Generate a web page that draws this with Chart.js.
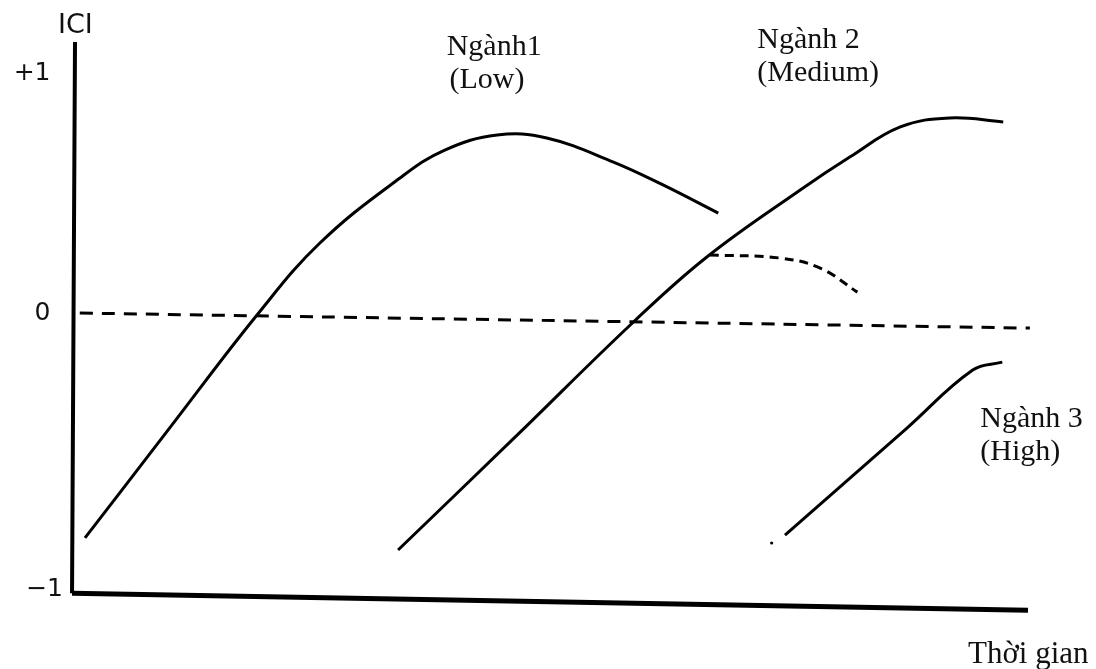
<!DOCTYPE html>
<html>
<head>
<meta charset="utf-8">
<script src="https://cdn.jsdelivr.net/npm/chart.js@4"></script>
<style>
  body { margin: 0; background: #fff; }
  #wrap { width: 1096px; height: 669px; }
</style>
</head>
<body>
<div id="wrap"><canvas id="iciChart"></canvas></div>
<script>
// thời gian (0-100) và giá trị ICI
const nganh1X = [1.05, 10.0, 19.1, 25.7, 34.1, 38.8, 44.3, 49.5, 56.5, 61.7, 67.5];
const nganh1Y = [-0.806, -0.409, -0.007, 0.251, 0.484, 0.584, 0.638, 0.627, 0.541, 0.459, 0.358];

const nganh2X = [33.9, 46.2, 58.6, 66.3, 76.1, 81.3, 86.6, 91.8, 97.4];
const nganh2Y = [-0.849, -0.444, -0.032, 0.201, 0.441, 0.559, 0.667, 0.699, 0.685];

// nhánh nét đứt tách ra từ Ngành 2
const nhanhX = [66.6, 74.0, 78.2, 82.1];
const nhanhY = [0.208, 0.197, 0.161, 0.075];

const nganh3X = [74.5, 87.3, 94.2, 97.3];
const nganh3Y = [-0.796, -0.412, -0.204, -0.176];

const chamX = [73.1];
const chamY = [-0.824];

// đường 0 (nét đứt) và hai trục
const duong0X = [0.5, 100.2];
const duong0Y = [0, -0.054];
const trucXX = [-0.31, 100];
const trucXY = [-1.004, -1.065];
const trucYX = [0, -0.31];
const trucYY = [0.971, -1.004];

// nhãn trục tung
const yTickValues = [0.86, 0, -0.99];
const yTickLabels = ['+1\u2002', '0\u2002', '\u22121'];

function pts(xs, ys) {
  return xs.map((x, i) => ({ x: x, y: ys[i] }));
}

function lineSet(label, xs, ys, width, dash) {
  return {
    label: label,
    data: pts(xs, ys),
    borderColor: '#000',
    borderWidth: width,
    borderDash: dash || [],
    pointRadius: 0,
    tension: 0.4,
    fill: false,
    clip: false
  };
}

// Ghi chú chữ trên biểu đồ
const notes = [
  { text: 'ICI', x: -1.78, y: 1.004, font: '27px "DejaVu Sans"' },
  { text: 'Ngành1', x: 39.0, y: 0.925, font: '30px "Liberation Serif"' },
  { text: '(Low)', x: 39.3, y: 0.806, font: '30px "Liberation Serif"' },
  { text: 'Ngành 2', x: 71.6, y: 0.950, font: '30px "Liberation Serif"' },
  { text: '(Medium)', x: 71.6, y: 0.832, font: '30px "Liberation Serif"' },
  { text: 'Ngành 3', x: 95.0, y: -0.409, font: '30px "Liberation Serif"' },
  { text: '(High)', x: 95.0, y: -0.527, font: '30px "Liberation Serif"' },
  { text: 'Thời gian', x: 93.7, y: -1.254, font: '31px "Liberation Serif"' }
];

const notesPlugin = {
  id: 'notes',
  afterDraw(chart) {
    const ctx = chart.ctx;
    const xs = chart.scales.x, ys = chart.scales.y;
    ctx.save();
    ctx.fillStyle = '#111';
    ctx.textAlign = 'left';
    ctx.textBaseline = 'alphabetic';
    notes.forEach(n => {
      ctx.font = n.font;
      ctx.fillText(n.text, xs.getPixelForValue(n.x), ys.getPixelForValue(n.y));
    });
    ctx.restore();
  }
};

const ctx = document.getElementById('iciChart').getContext('2d');
const chart = new Chart(ctx, {
  type: 'line',
  data: {
    datasets: [
      lineSet('Trục tung', trucYX, trucYY, 4),
      lineSet('Trục hoành', trucXX, trucXY, 5),
      lineSet('Đường 0', duong0X, duong0Y, 3, [13, 9]),
      lineSet('Ngành1 (Low)', nganh1X, nganh1Y, 3),
      lineSet('Ngành 2 (Medium)', nganh2X, nganh2Y, 3),
      lineSet('Nhánh', nhanhX, nhanhY, 3, [9, 6]),
      lineSet('Ngành 3 (High)', nganh3X, nganh3Y, 3),
      {
        label: 'Chấm',
        data: pts(chamX, chamY),
        showLine: false,
        pointRadius: 1.6,
        pointBackgroundColor: '#000',
        pointBorderWidth: 0,
        clip: false
      }
    ]
  },
  options: {
    responsive: true,
    maintainAspectRatio: false,
    animation: false,
    layout: { padding: { top: 34, right: 68, bottom: 49, left: 0 } },
    plugins: {
      legend: { display: false },
      tooltip: { enabled: false }
    },
    scales: {
      x: {
        type: 'linear',
        min: 0,
        max: 100,
        display: false
      },
      y: {
        type: 'linear',
        min: -1.1,
        max: 1.0,
        grid: { display: false, drawTicks: false },
        border: { display: false },
        afterBuildTicks: scale => {
          scale.ticks = yTickValues.map(v => ({ value: v }));
        },
        afterFit: scale => { scale.width = 75; },
        ticks: {
          padding: 12,
          color: '#111',
          font: { family: 'DejaVu Sans', size: 25 },
          callback: value => yTickLabels[yTickValues.indexOf(value)]
        }
      }
    }
  },
  plugins: [notesPlugin]
});
</script>
</body>
</html>
